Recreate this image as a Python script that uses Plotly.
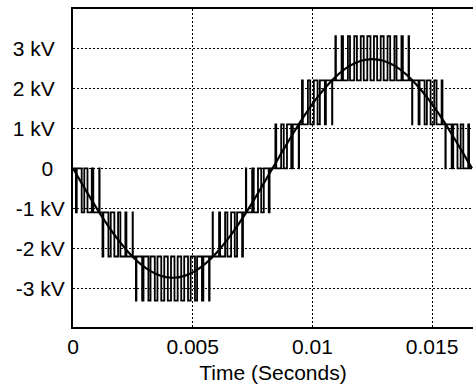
import plotly.graph_objects as go

# ---------------- data ----------------
# PWM carrier: 60 switching periods over one 60 Hz cycle
carrier_periods_per_cycle = 60
cycle_s = 1 / 60

# per carrier period: resting (inner) level, pulse (outer) level in kV, and pulse duty
inner_level_kv = [0, 0, 0, 0, -1.1, -1.1, -1.1, -1.1, -1.1,
                  -2.2, -2.2, -2.2, -2.2, -2.2, -2.2, -2.2, -2.2, -2.2, -2.2, -2.2, -2.2,
                  -1.1, -1.1, -1.1, -1.1, -1.1, 0, 0, 0, 0,
                  0, 0, 0, 0, 1.1, 1.1, 1.1, 1.1, 1.1,
                  2.2, 2.2, 2.2, 2.2, 2.2, 2.2, 2.2, 2.2, 2.2, 2.2, 2.2, 2.2,
                  1.1, 1.1, 1.1, 1.1, 1.1, 0, 0, 0, 0]
outer_level_kv = [-1.1, -1.1, -1.1, -1.1, -2.2, -2.2, -2.2, -2.2, -2.2,
                  -3.3, -3.3, -3.3, -3.3, -3.3, -3.3, -3.3, -3.3, -3.3, -3.3, -3.3, -3.3,
                  -2.2, -2.2, -2.2, -2.2, -2.2, -1.1, -1.1, -1.1, -1.1,
                  1.1, 1.1, 1.1, 1.1, 2.2, 2.2, 2.2, 2.2, 2.2,
                  3.3, 3.3, 3.3, 3.3, 3.3, 3.3, 3.3, 3.3, 3.3, 3.3, 3.3, 3.3,
                  2.2, 2.2, 2.2, 2.2, 2.2, 1.1, 1.1, 1.1, 1.1]
pulse_duty = [0.13, 0.39, 0.64, 0.89, 0.13, 0.35, 0.56, 0.75, 0.93,
              0.08, 0.21, 0.32, 0.40, 0.45, 0.48, 0.48, 0.45, 0.40, 0.32, 0.21, 0.08,
              0.93, 0.75, 0.56, 0.35, 0.13, 0.89, 0.64, 0.39, 0.13,
              0.13, 0.39, 0.64, 0.89, 0.13, 0.35, 0.56, 0.75, 0.93,
              0.08, 0.21, 0.32, 0.40, 0.45, 0.48, 0.48, 0.45, 0.40, 0.32, 0.21, 0.08,
              0.93, 0.75, 0.56, 0.35, 0.13, 0.89, 0.64, 0.39, 0.13]

# fundamental (sinusoid)
sine_t = [0, 0.000463, 0.000926, 0.001389, 0.001852, 0.002315, 0.002778, 0.003241,
          0.003704, 0.004167, 0.004630, 0.005093, 0.005556, 0.006019, 0.006481,
          0.006944, 0.007407, 0.007870, 0.008333, 0.008796, 0.009259, 0.009722,
          0.010185, 0.010648, 0.011111, 0.011574, 0.012037, 0.012500, 0.012963,
          0.013426, 0.013889, 0.014352, 0.014815, 0.015278, 0.015741, 0.016204, 0.016667]
sine_kv = [0, -0.474, -0.934, -1.365, -1.755, -2.091, -2.364, -2.565, -2.689, -2.73,
           -2.689, -2.565, -2.364, -2.091, -1.755, -1.365, -0.934, -0.474, 0,
           0.474, 0.934, 1.365, 1.755, 2.091, 2.364, 2.565, 2.689, 2.73,
           2.689, 2.565, 2.364, 2.091, 1.755, 1.365, 0.934, 0.474, 0]

x_tickvals = [0, 0.005, 0.01, 0.015]
x_ticktext = ["0", "0.005", "0.01", "0.015"]
y_tickvals = [-3, -2, -1, 0, 1, 2, 3]
y_ticktext = ["-3 kV", "-2 kV", "-1 kV", "0\u00a0\u00a0",
              "1 kV\u00a0\u2009", "2 kV\u00a0\u2009", "3 kV\u00a0\u2009"]

# ---------------- build step waveform ----------------
T = cycle_s / carrier_periods_per_cycle
pwm_t, pwm_v = [], []
for n, (lo, hi, d) in enumerate(zip(inner_level_kv, outer_level_kv, pulse_duty)):
    t0 = n * T
    a = t0 + (1 - d) / 2 * T
    b = a + d * T
    pwm_t += [t0, a, b]
    pwm_v += [lo, hi, lo]
pwm_t.append(cycle_s)
pwm_v.append(0)

font_family = "Liberation Sans, Arial, Helvetica, sans-serif"

fig = go.Figure()
fig.add_trace(go.Scatter(x=pwm_t, y=pwm_v, mode="lines",
                         line=dict(color="black", width=1.8, shape="hv"),
                         hoverinfo="skip"))
fig.add_trace(go.Scatter(x=sine_t, y=sine_kv, mode="lines",
                         line=dict(color="black", width=2.2, shape="spline"),
                         hoverinfo="skip"))

fig.update_layout(
    width=473, height=388,
    margin=dict(l=73, r=0, t=9, b=61),
    paper_bgcolor="white", plot_bgcolor="white",
    showlegend=False,
    font=dict(family=font_family, size=21, color="black"),
)
fig.update_xaxes(
    range=[0, 0.01671], automargin=False,
    tickvals=x_tickvals, ticktext=x_ticktext,
    showgrid=True, gridcolor="black", gridwidth=1, griddash="2px,2px",
    showline=True, linecolor="black", linewidth=2, mirror=True,
    zeroline=False, ticks="", ticklabelstandoff=0,
    tickfont=dict(family=font_family, size=21, color="black"),
    title=dict(text="\u00a0\u00a0Time (Seconds)", standoff=8,
               font=dict(family=font_family, size=21, color="black")),
)
fig.update_yaxes(
    range=[-3.96, 3.98], automargin=False,
    tickvals=y_tickvals, ticktext=y_ticktext,
    showgrid=True, gridcolor="black", gridwidth=1, griddash="2px,2px",
    showline=True, linecolor="black", linewidth=2, mirror=False,
    zeroline=False, ticks="", ticklabelstandoff=2,
    tickfont=dict(family=font_family, size=21, color="black"),
)

# remove the page's default body margin so the figure fills the window exactly
fig.write_html(
    "out.html",
    config={"displayModeBar": False},
    post_script="document.body.style.margin='0';document.body.style.overflow='hidden';",
)
